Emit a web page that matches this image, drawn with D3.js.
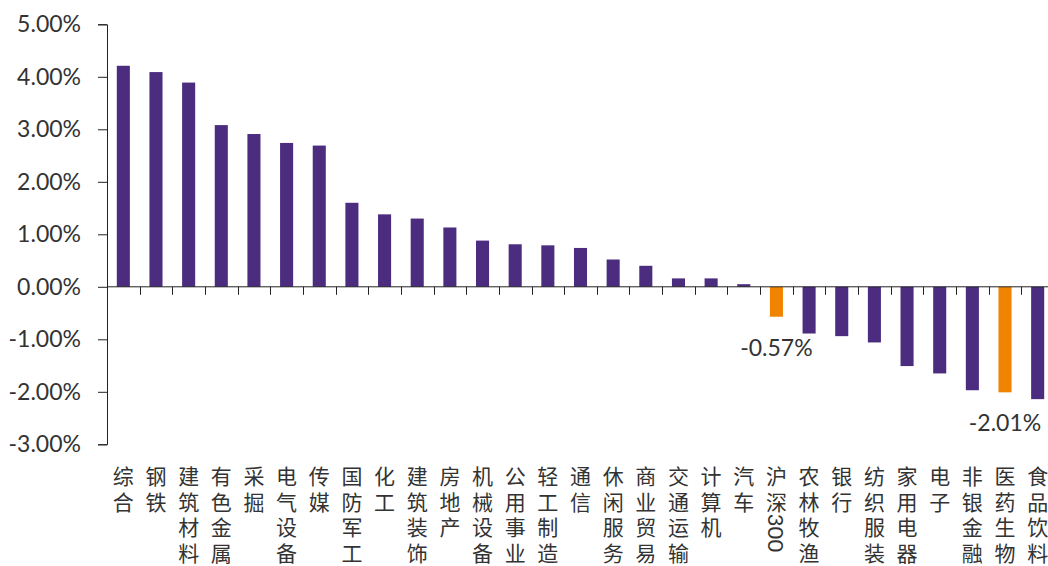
<!DOCTYPE html>
<html lang="zh-CN">
<head>
	<meta charset="UTF-8" />
	<title>行业涨跌幅</title>
	<script src="https://d3js.org/d3.v7.min.js"></script>
	<style>
		body { margin: 0; background: #fff; }
		svg { display: block; }
		.num { font-family: Lato, "Liberation Sans", sans-serif; fill: #333; }
		.cat { font-family: Lato, "Noto Sans CJK SC", sans-serif; fill: #333; }
	</style>
</head>
<body>
	<div id="main"></div>
	<script type="text/javascript">
		var categories = ['综合', '钢铁', '建筑材料', '有色金属', '采掘', '电气设备', '传媒', '国防军工', '化工', '建筑装饰',
			'房地产', '机械设备', '公用事业', '轻工制造', '通信', '休闲服务', '商业贸易', '交通运输', '计算机', '汽车',
			'沪深300', '农林牧渔', '银行', '纺织服装', '家用电器', '电子', '非银金融', '医药生物', '食品饮料'];
		var values = [4.21, 4.09, 3.89, 3.08, 2.91, 2.74, 2.69, 1.60, 1.38, 1.30,
			1.13, 0.88, 0.81, 0.79, 0.74, 0.52, 0.40, 0.16, 0.16, 0.05,
			-0.57, -0.89, -0.94, -1.06, -1.51, -1.65, -1.97, -2.01, -2.14];
		var highlighted = ['沪深300', '医药生物'];
		var yTicks = [5, 4, 3, 2, 1, 0, -1, -2, -3];

		var width = 1048, height = 566;
		var svg = d3.select('#main').append('svg').attr('width', width).attr('height', height);

		var locale = d3.formatLocale({ decimal: '.', thousands: ',', grouping: [3], currency: ['', ''], minus: '-' });
		var pct = locale.format('.2f');

		var x = d3.scaleBand().domain(categories).range([107, 1054]);
		var y = d3.scaleLinear().domain([-3, 5]).range([444.3, 24.3]);

		// y axis
		var yAxis = d3.axisLeft(y).tickValues(yTicks).tickSize(9).tickPadding(17)
			.tickFormat(function (d) { return pct(d) + '%'; });
		var gy = svg.append('g').attr('transform', 'translate(107,0)').call(yAxis);
		gy.select('.domain').attr('stroke', '#222');
		gy.selectAll('.tick line').attr('stroke', '#222');
		gy.selectAll('.tick text').attr('class', 'num').attr('font-size', '23px').attr('fill', '#333')
			.attr('font-family', 'Lato, "Liberation Sans", sans-serif');

		// bars
		svg.append('g').selectAll('rect').data(categories).enter().append('rect')
			.attr('x', function (d) { return x(d) + x.bandwidth() * 0.3; })
			.attr('width', x.bandwidth() * 0.4)
			.attr('y', function (d, i) { return y(Math.max(0, values[i])); })
			.attr('height', function (d, i) { return Math.abs(y(values[i]) - y(0)); })
			.attr('fill', function (d) { return highlighted.indexOf(d) >= 0 ? '#F08300' : '#4B2C7F'; });

		// x axis at zero
		var gx = svg.append('g');
		gx.append('line').attr('x1', x.range()[0]).attr('x2', x.range()[1])
			.attr('y1', y(0)).attr('y2', y(0)).attr('stroke', '#222');
		gx.selectAll('line.tk').data(categories.slice(1)).enter().append('line').attr('class', 'tk')
			.attr('x1', function (d) { return Math.round(x(d)) + 0.5; })
			.attr('x2', function (d) { return Math.round(x(d)) + 0.5; })
			.attr('y1', y(0)).attr('y2', y(0) + 8).attr('stroke', '#222');

		// vertical category labels, one character per row
		var rowY = [475, 500.5, 526, 551.5];
		var cat = svg.append('g');
		categories.forEach(function (c) {
			var cx = x(c) + x.bandwidth() / 2;
			var hanzi = c.replace(/[0-9]+/g, '');
			var digits = c.match(/[0-9]+/);
			var t = cat.append('text').attr('class', 'cat').attr('font-size', '21px')
				.attr('text-anchor', 'middle').attr('dominant-baseline', 'central');
			hanzi.split('').forEach(function (ch, r) {
				t.append('tspan').attr('x', cx).attr('y', rowY[r]).text(ch);
			});
			if (digits) {
				cat.append('text').attr('class', 'num').attr('font-size', '22px')
					.attr('text-anchor', 'middle').attr('dominant-baseline', 'central')
					.attr('transform', 'translate(' + cx + ',' + (rowY[hanzi.length] + 7) + ') rotate(90)')
					.text(digits[0]);
			}
		});

		// value labels for highlighted bars
		svg.append('g').selectAll('text').data(highlighted).enter().append('text')
			.attr('class', 'num').attr('font-size', '23px').attr('text-anchor', 'middle')
			.attr('dominant-baseline', 'central')
			.attr('x', function (d) { return x(d) + x.bandwidth() / 2; })
			.attr('y', function (d) { return y(values[categories.indexOf(d)]) + 30; })
			.text(function (d) { return pct(values[categories.indexOf(d)]) + '%'; });
	</script>
</body>
</html>
